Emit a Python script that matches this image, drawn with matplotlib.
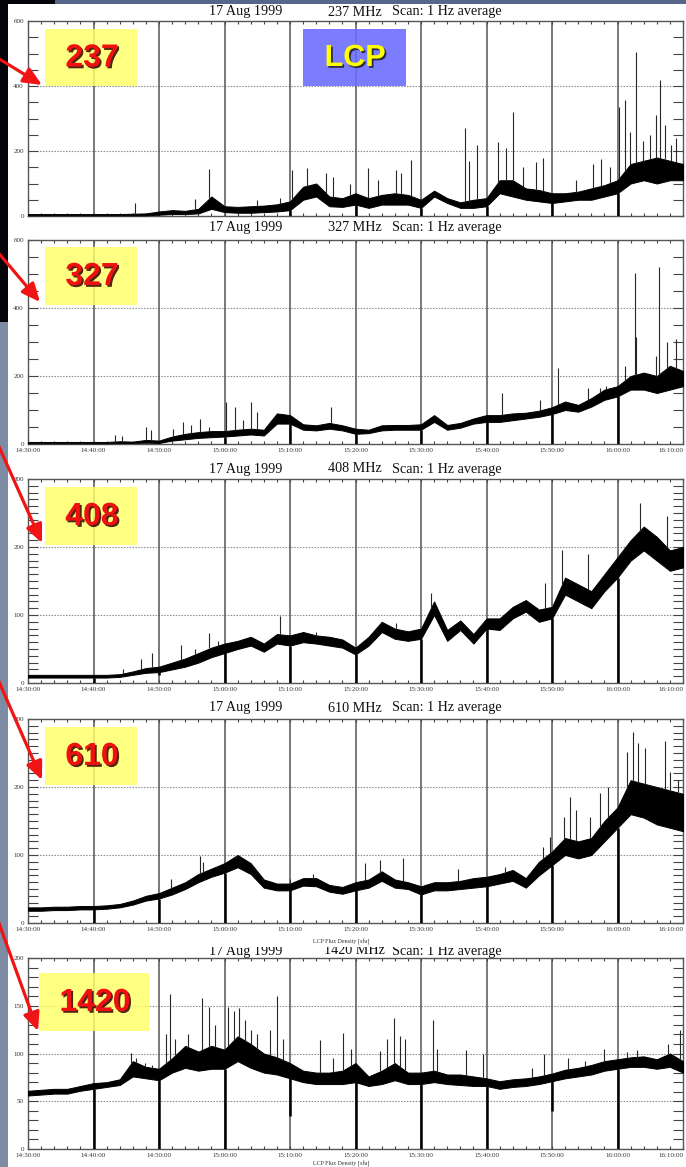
import numpy as np
import matplotlib
matplotlib.use('Agg')
import matplotlib.pyplot as plt
from matplotlib.patches import Rectangle, FancyArrowPatch
from matplotlib.transforms import IdentityTransform
import matplotlib.patheffects as pe

# ---------------- data (minutes after 14:30 UT, flux in sfu) ----------------
t_grid = list(range(0, 101, 2))
time_labels = ['14:30:00', '14:40:00', '14:50:00', '15:00:00', '15:10:00', '15:20:00',
               '15:30:00', '15:40:00', '15:50:00', '16:00:00', '16:10:00']
freqs = ['237', '327', '408', '610', '1420']
date_str = '17 Aug 1999'
scan_str = 'Scan: 1 Hz average'
ylabel_str = 'LCP Flux Density [sfu]'

# 237 MHz
lo_237 = [2, 2, 2, 2, 2, 2, 2, 2, 2, 2, 4, 6, 6, 8, 22, 12, 10, 10, 12, 14,
          18, 50, 60, 30, 28, 35, 25, 35, 35, 35, 25, 60, 40, 25, 25, 30, 70, 60, 50, 45,
          40, 45, 50, 50, 60, 70, 100, 110, 100, 110, 110]
hi_237 = [6, 6, 6, 6, 6, 6, 6, 6, 7, 8, 14, 18, 16, 22, 60, 30, 28, 30, 32, 36,
          45, 90, 100, 60, 55, 70, 55, 65, 70, 65, 50, 78, 55, 42, 50, 55, 110, 110, 85, 80,
          70, 70, 75, 85, 95, 110, 160, 170, 180, 170, 160]
spk_t_237 = [16.3, 25.5, 27.7, 35.0, 38.5, 40.3, 42.6, 44.0, 45.5, 46.6, 49.1, 51.9, 53.4,
             56.2, 57.0, 58.5, 66.7, 67.4, 68.5, 71.8, 73.0, 74.0, 75.6, 77.6, 78.6, 83.7,
             86.3, 87.5, 88.8, 90.3, 91.1, 91.9, 92.9, 93.9, 94.9, 95.9, 96.5, 97.2, 98.2, 99.0]
spk_v_237 = [40, 52, 144, 49, 55, 141, 147, 95, 132, 120, 100, 147, 110,
             142, 133, 172, 270, 170, 218, 228, 210, 321, 150, 167, 180, 110,
             160, 175, 150, 336, 357, 260, 506, 230, 250, 310, 418, 280, 220, 240]
drop_t_237 = [40, 50, 60, 70, 80, 90]
drop_v_237 = [0, 0, 0, 0, 0, 0]

# 327 MHz
lo_327 = [2, 2, 2, 2, 2, 2, 2, 3, 3, 4, 3, 10, 14, 18, 20, 22, 25, 28, 25, 60,
          60, 42, 40, 45, 40, 30, 32, 40, 42, 42, 42, 65, 42, 48, 60, 65, 65, 70, 75, 80,
          88, 100, 95, 110, 130, 140, 160, 160, 150, 160, 170]
hi_327 = [6, 6, 6, 6, 6, 6, 6, 8, 7, 12, 10, 22, 30, 35, 38, 38, 42, 45, 42, 90,
          85, 58, 55, 62, 55, 45, 42, 55, 56, 56, 58, 85, 56, 62, 75, 85, 85, 90, 92, 98,
          108, 125, 115, 135, 160, 170, 200, 210, 200, 230, 215]
spk_t_327 = [13.3, 14.3, 18.0, 18.8, 22.1, 23.7, 24.9, 26.2, 27.7, 30.3, 31.6, 32.8, 34.1,
             34.9, 46.3, 72.3, 78.1, 80.9, 85.5, 87.3, 88.3, 91.1, 92.6, 92.9, 95.9, 96.4,
             97.5, 99.0]
spk_v_327 = [26, 24, 51, 40, 45, 66, 55, 73, 50, 125, 110, 70, 125,
             95, 110, 150, 130, 224, 165, 165, 170, 230, 503, 316, 260, 520,
             300, 310]
drop_t_327 = [30, 40, 50, 60, 70, 80, 90]
drop_v_327 = [0, 0, 0, 0, 0, 0, 0]

# 408 MHz
lo_408 = [8, 8, 8, 8, 8, 8, 8, 9, 12, 15, 16, 20, 24, 30, 38, 44, 50, 55, 46, 58,
          55, 60, 58, 55, 52, 42, 55, 75, 65, 62, 65, 100, 62, 78, 58, 80, 78, 95, 105, 90,
          95, 130, 120, 110, 135, 155, 180, 195, 180, 165, 170]
hi_408 = [12, 12, 12, 12, 12, 12, 12, 13, 17, 22, 24, 30, 36, 44, 52, 58, 62, 68, 58, 72,
          70, 75, 70, 68, 64, 52, 68, 90, 80, 76, 80, 120, 78, 92, 72, 95, 95, 112, 122, 108,
          112, 155, 145, 135, 160, 185, 210, 230, 215, 195, 200]
spk_t_408 = [14.5, 17.3, 19.0, 23.3, 25.5, 27.7, 29.0, 38.4, 44.0, 56.2, 61.5, 78.9,
             81.5, 85.5, 93.4, 97.5]
spk_v_408 = [20, 35, 44, 56, 50, 73, 62, 98, 75, 88, 132, 147,
             195, 190, 265, 245]
drop_t_408 = [10, 20, 30, 40, 50, 60, 70, 80, 90]
drop_v_408 = [0, 12, 0, 0, 0, 0, 0, 0, 0]

# 610 MHz
lo_610 = [18, 18, 19, 19, 20, 20, 21, 23, 27, 33, 36, 42, 50, 60, 68, 74, 82, 72, 52, 48,
          48, 55, 54, 46, 43, 48, 52, 62, 52, 50, 42, 48, 48, 50, 52, 54, 58, 62, 52, 70,
          85, 100, 95, 100, 120, 140, 160, 155, 145, 140, 135]
hi_610 = [23, 23, 24, 24, 25, 25, 26, 28, 33, 40, 44, 52, 60, 72, 80, 88, 100, 88, 64, 58,
          58, 66, 66, 56, 53, 60, 64, 76, 64, 60, 54, 60, 60, 62, 66, 68, 72, 78, 66, 90,
          105, 125, 120, 125, 150, 170, 210, 205, 200, 195, 190]
spk_t_610 = [21.9, 26.2, 26.7, 31.7, 40.0, 43.5, 51.4, 53.7, 57.3, 65.7, 72.8, 78.6, 79.7,
             81.9, 82.7, 83.7, 85.8, 87.3, 88.6, 91.4, 92.4, 93.1, 94.2, 97.2, 98.0, 99.2]
spk_v_610 = [65, 98, 90, 95, 65, 72, 88, 93, 95, 80, 83, 112, 127,
             156, 186, 166, 156, 191, 200, 252, 281, 264, 257, 267, 222, 210]
drop_t_610 = [10, 20, 30, 40, 50, 60, 70, 80, 90]
drop_v_610 = [0, 0, 0, 0, 0, 0, 0, 0, 0]

# 1420 MHz
lo_1420 = [56, 57, 58, 58, 61, 63, 65, 67, 76, 74, 72, 80, 85, 82, 84, 84, 92, 85, 80, 78,
           74, 70, 68, 68, 68, 70, 66, 68, 72, 68, 68, 70, 68, 67, 66, 66, 63, 65, 66, 68,
           71, 74, 76, 78, 82, 84, 86, 86, 84, 86, 80]
hi_1420 = [61, 62, 63, 63, 66, 69, 70, 73, 92, 86, 84, 95, 108, 102, 108, 104, 118, 110, 100, 96,
           90, 82, 80, 80, 82, 90, 76, 82, 90, 80, 80, 82, 78, 78, 76, 74, 71, 73, 74, 76,
           79, 83, 85, 88, 92, 94, 96, 97, 94, 100, 92]
spk_t_1420 = [15.8, 16.5, 17.8, 19.0, 21.0, 21.7, 22.5, 24.5, 26.5, 27.6, 28.5, 30.5, 31.5,
              32.2, 33.2, 34.0, 35.0, 37.0, 38.0, 39.0, 44.6, 46.5, 48.1, 49.3, 53.8, 54.8,
              55.9, 56.8, 57.5, 61.8, 62.5, 66.9, 69.5, 77.0, 78.8, 82.5, 85.0, 88.0, 91.5,
              93.0, 97.7, 99.5]
spk_v_1420 = [101, 95, 90, 88, 120, 162, 115, 120, 158, 149, 130, 149, 145,
              148, 135, 125, 120, 125, 160, 115, 114, 95, 121, 105, 103, 115,
              137, 118, 115, 135, 105, 104, 100, 85, 100, 95, 92, 105, 102,
              104, 110, 125]
drop_t_1420 = [10, 20, 30, 40, 50, 60, 70, 80, 90]
drop_v_1420 = [0, 0, 0, 35, 0, 0, 0, 40, 0]

panels = [
    (lo_237, hi_237, spk_t_237, spk_v_237, drop_t_237, drop_v_237),
    (lo_327, hi_327, spk_t_327, spk_v_327, drop_t_327, drop_v_327),
    (lo_408, hi_408, spk_t_408, spk_v_408, drop_t_408, drop_v_408),
    (lo_610, hi_610, spk_t_610, spk_v_610, drop_t_610, drop_v_610),
    (lo_1420, hi_1420, spk_t_1420, spk_v_1420, drop_t_1420, drop_v_1420),
]

# ---------------- layout (pixels) ----------------
W, H = 686, 1167
fig = plt.figure(figsize=(W / 100, H / 100), dpi=100, facecolor='white')

ax_left, ax_right = 28, 683
ax_tops = [21, 240, 479, 719, 958]
ax_bots = [216, 444, 683, 923, 1149]
title_y = [12, 228, 469, 708, 951]
ymax = [600, 600, 300, 300, 200]
ymaj = [200, 200, 100, 100, 50]
ymin_step = [50, 50, 10, 10, 10]

serif = 'Liberation Serif'


def frect(x, y, w, h, **kw):
    r = Rectangle((x / W, 1 - (y + h) / H), w / W, h / H, transform=fig.transFigure, **kw)
    fig.add_artist(r)
    return r


tg = np.array(t_grid, dtype=float)
for i, (lo, hi, st, sv, dt, dv) in enumerate(panels):
    top, bot = ax_tops[i], ax_bots[i]
    ax = fig.add_axes([ax_left / W, 1 - bot / H, (ax_right - ax_left) / W, (bot - top) / H])
    ax.set_xlim(0, 100)
    ax.set_ylim(0, ymax[i])
    ax.set_xticks(range(0, 101, 10))
    ax.set_xticks(range(0, 101, 2), minor=True)
    ax.set_yticks(np.arange(0, ymax[i] + 1, ymaj[i]))
    ax.set_yticks(np.arange(0, ymax[i] + 1, ymin_step[i]), minor=True)
    ax.tick_params(which='both', direction='in', top=True, right=True, color='#444444')
    ax.tick_params(axis='y', which='both', length=7, width=0.8, labelsize=5,
                   labelcolor='#333333', pad=3, labelfontfamily=serif)
    ax.tick_params(axis='x', which='both', length=2.5, width=0.8, labelsize=5,
                   labelcolor='#333333', pad=3, labelfontfamily=serif)
    if i == 0:
        ax.set_xticklabels([])
    else:
        ax.set_xticklabels(time_labels)
        ax.get_xticklabels()[-1].set_horizontalalignment('right')
    ax.set_yticklabels([str(int(v)) for v in np.arange(0, ymax[i] + 1, ymaj[i])])
    for s in ax.spines.values():
        s.set_color('#555555')
        s.set_linewidth(1.0)
    for v in np.arange(ymaj[i], ymax[i], ymaj[i]):
        ax.axhline(v, color='#8c8c8c', lw=0.8, ls=(0, (1.3, 1.3)), zorder=1)
    for x in range(10, 100, 10):
        ax.axvline(x, color='#555555', lw=1.1, zorder=1)

    ax.fill_between(tg, lo, hi, facecolor='black', edgecolor='black', lw=0.7, zorder=3)
    base = np.interp(st, tg, hi)
    ax.vlines(st, base, sv, color='#262626', lw=0.8, zorder=3)
    dtop = np.interp(dt, tg, lo)
    ax.vlines(dt, dv, dtop, color='black', lw=1.8, zorder=3)

    # titles
    fig.text(209 / W, 1 - title_y[i] / H, date_str, fontsize=10.2, family=serif,
             ha='left', va='center', color='#111111', zorder=1)
    fig.text((324 if freqs[i] == '1420' else 328) / W, 1 - title_y[i] / H,
             freqs[i] + ' MHz', fontsize=10.2, family=serif, ha='left', va='center',
             color='#111111', zorder=1)
    fig.text(392 / W, 1 - title_y[i] / H, scan_str, fontsize=10.2, family=serif,
             ha='left', va='center', color='#111111', zorder=1)

# panel 4 image covers the top of the 1420 title
frect(8, 937, W - 8, 9.5, facecolor='white', edgecolor='none', zorder=2)
fig.text(341 / W, 1 - 942 / H, ylabel_str, fontsize=4.3, family=serif, ha='center',
         va='center', color='#333333', zorder=3)
fig.text(341 / W, 1 - 1164 / H, ylabel_str, fontsize=4.3, family=serif, ha='center',
         va='center', color='#333333', zorder=3)

# slide background
frect(0, 0, 8, 322, facecolor='#03050b', edgecolor='none', zorder=4)
frect(0, 322, 8, H - 322, facecolor='#7d8ba4', edgecolor='none', zorder=4)
frect(0, 0, 55, 4, facecolor='#03050b', edgecolor='none', zorder=4)
frect(55, 0, W - 55, 4, facecolor='#56678a', edgecolor='none', zorder=4)

# label boxes
box_x = [45, 45, 45, 45, 39]
box_y = [29, 247, 487, 727, 973]
box_w = [92, 92, 92, 92, 110]
box_h = [57, 58, 58, 58, 58]
for i in range(5):
    frect(box_x[i], box_y[i], box_w[i], box_h[i], facecolor='#ffff66', alpha=0.82,
          edgecolor='none', zorder=5)
    fig.text((box_x[i] + box_w[i] / 2 + 1) / W, 1 - (box_y[i] + box_h[i] / 2 + 1) / H,
             freqs[i], fontsize=23, family='Liberation Sans', weight='bold',
             color='#f01010', ha='center', va='center', zorder=6,
             path_effects=[pe.SimplePatchShadow(offset=(1.3, -1.3), shadow_rgbFace='#300000',
                                                alpha=0.85), pe.Normal()])

frect(303, 29, 103, 57, facecolor='#6a6aff', alpha=0.88, edgecolor='none', zorder=5)
fig.text(355 / W, 1 - 58 / H, 'LCP', fontsize=22, family='Liberation Sans', weight='bold',
         color='#ffff00', ha='center', va='center', zorder=6,
         path_effects=[pe.SimplePatchShadow(offset=(1.3, -1.3), shadow_rgbFace='#202020',
                                            alpha=0.85), pe.Normal()])

# red arrows
arrow_from = [(-4, 57), (-4, 250), (-4, 440), (-4, 675), (-4, 915)]
arrow_to = [(42, 85), (40, 302), (42, 543), (42, 780), (38, 1031)]
for (x0, y0), (x1, y1) in zip(arrow_from, arrow_to):
    a = FancyArrowPatch((x0, H - y0), (x1, H - y1), transform=IdentityTransform(),
                        arrowstyle='-|>,head_length=0.85,head_width=0.38',
                        mutation_scale=13, color='#f01414', lw=2.3, zorder=7,
                        shrinkA=0, shrinkB=0)
    fig.add_artist(a)

fig.savefig('out.png', dpi=100, facecolor='white')
